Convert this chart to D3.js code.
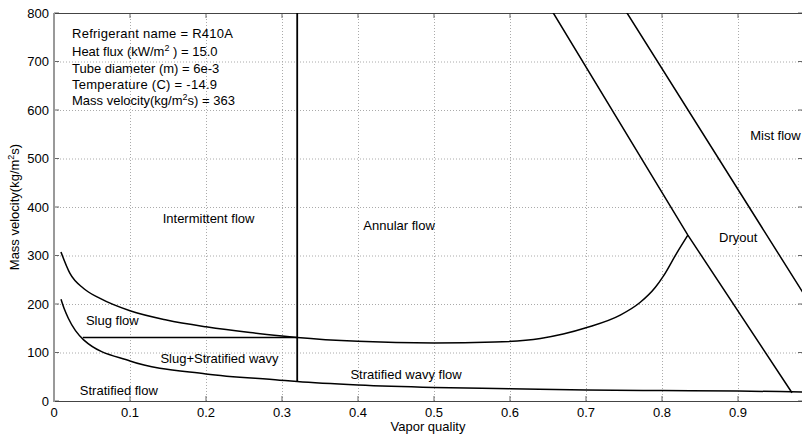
<!DOCTYPE html>
<html>
<head>
<meta charset="utf-8">
<script src="https://cdn.jsdelivr.net/npm/d3@7"></script>
<style>
  body { margin: 0; background: #fff; }
  svg text { font-family: "Liberation Sans", Arial, sans-serif; font-size: 13px; fill: #000; }
  .grid line { stroke: #aaa; stroke-dasharray: 1,2; }
  .grid path { display: none; }
</style>
</head>
<body>
<svg id="main" width="802" height="434"></svg>
<script>
// flow pattern map boundaries
const wavyX = [0.0092, 0.021, 0.039, 0.06, 0.1, 0.148, 0.2, 0.258, 0.3, 0.32, 0.4, 0.5, 0.58, 0.64, 0.67, 0.7, 0.745, 0.771, 0.791, 0.802, 0.819, 0.834];
const wavyG = [307, 263, 232, 212, 186, 167, 153, 141, 134, 131, 123, 119.5, 121.5, 129, 138, 151, 177, 203, 234, 258, 304, 342];

const stratX = [0.0092, 0.014, 0.019, 0.039, 0.1, 0.2, 0.297, 0.32, 0.4, 0.5, 0.6, 0.7, 0.8, 0.9, 0.97, 0.99];
const stratG = [210, 188, 170, 126, 82.5, 55.7, 43, 40, 33, 28, 25.5, 22.7, 21.5, 20.6, 19, 18.5];

const slugX = [0.038, 0.32];
const slugG = [131, 131];

const iaX = [0.32, 0.32];
const iaG = [40, 800];

const dryoutX = [0.652, 0.657, 0.834, 0.971];
const dryoutG = [812, 800, 342, 17];

const mistX = [0.749, 0.754, 0.99];
const mistG = [812, 800, 212];

const xTicks = [0, 0.1, 0.2, 0.3, 0.4, 0.5, 0.6, 0.7, 0.8, 0.9];
const yTicks = [0, 100, 200, 300, 400, 500, 600, 700, 800];

const infoLines = [
  ['Refrigerant name = R410A'],
  ['Heat flux (kW/m', '2', ' ) = 15.0'],
  ['Tube diameter (m) = 6e-3'],
  ['Temperature (C) = -14.9'],
  ['Mass velocity(kg/m', '2', 's) = 363']
];

const regions = [
  { label: 'Intermittent flow', x: 0.143, g: 366 },
  { label: 'Annular flow', x: 0.407, g: 352 },
  { label: 'Mist flow', x: 0.916, g: 538 },
  { label: 'Dryout', x: 0.875, g: 327 },
  { label: 'Slug flow', x: 0.042, g: 157 },
  { label: 'Slug+Stratified wavy', x: 0.14, g: 79 },
  { label: 'Stratified wavy flow', x: 0.39, g: 45 },
  { label: 'Stratified flow', x: 0.034, g: 12 }
];

const svg = d3.select('svg#main');
const mLeft = 54, mTop = 13, mRight = 803, mBottom = 401;

const x = d3.scaleLinear().domain([0, 0.9855]).range([mLeft, mRight]);
const y = d3.scaleLinear().domain([0, 800]).range([mBottom, mTop]);

// grid
svg.append('g')
  .attr('class', 'grid')
  .attr('transform', `translate(0, ${mBottom})`)
  .call(d3.axisBottom(x).tickValues(xTicks.slice(1)).tickSize(-(mBottom - mTop)).tickFormat(''));

svg.append('g')
  .attr('class', 'grid')
  .attr('transform', `translate(${mLeft}, 0)`)
  .call(d3.axisLeft(y).tickValues(yTicks.slice(1, -1)).tickSize(-(mRight - mLeft)).tickFormat(''));

// ticks (inward)
const tk = svg.append('g').attr('stroke', '#666').attr('stroke-width', 1);
xTicks.forEach(v => {
  tk.append('line').attr('x1', x(v)).attr('x2', x(v)).attr('y1', mBottom).attr('y2', mBottom - 5);
  tk.append('line').attr('x1', x(v)).attr('x2', x(v)).attr('y1', mTop).attr('y2', mTop + 5);
});
yTicks.forEach(v => {
  tk.append('line').attr('x1', mLeft).attr('x2', mLeft + 5).attr('y1', y(v)).attr('y2', y(v));
  tk.append('line').attr('x1', mRight - 5).attr('x2', mRight).attr('y1', y(v)).attr('y2', y(v));
});

// frame
svg.append('line').attr('x1', mLeft).attr('x2', mRight).attr('y1', mTop + 0.5).attr('y2', mTop + 0.5)
  .attr('stroke', '#444');
svg.append('line').attr('x1', mLeft).attr('x2', mRight).attr('y1', mBottom + 0.5).attr('y2', mBottom + 0.5)
  .attr('stroke', '#444');
svg.append('line').attr('x1', mLeft).attr('x2', mLeft).attr('y1', mTop).attr('y2', mBottom + 1)
  .attr('stroke', '#999').attr('stroke-width', 2);

// tick labels
svg.append('g').selectAll('text')
  .data(xTicks).enter().append('text')
  .attr('x', d => x(d))
  .attr('y', 417)
  .attr('text-anchor', 'middle')
  .text(d => d === 0 ? '0' : d3.format('.1f')(d));

svg.append('g').selectAll('text')
  .data(yTicks).enter().append('text')
  .attr('x', 49)
  .attr('y', d => y(d) + 4.5)
  .attr('text-anchor', 'end')
  .text(d => d);

// boundaries
svg.append('clipPath').attr('id', 'clip')
  .append('rect').attr('x', mLeft).attr('y', mTop).attr('width', mRight - mLeft).attr('height', mBottom - mTop);

const plot = svg.append('g').attr('clip-path', 'url(#clip)');

const curve = (xs, gs, c) => d3.line()
  .x((d, i) => x(xs[i]))
  .y((d, i) => y(gs[i]))
  .curve(c)(xs);

plot.append('path').attr('d', curve(wavyX, wavyG, d3.curveMonotoneX))
  .attr('fill', 'none').attr('stroke', '#000').attr('stroke-width', 1.5);
plot.append('path').attr('d', curve(stratX, stratG, d3.curveMonotoneX))
  .attr('fill', 'none').attr('stroke', '#000').attr('stroke-width', 1.5);
plot.append('path').attr('d', curve(slugX, slugG, d3.curveLinear))
  .attr('fill', 'none').attr('stroke', '#000').attr('stroke-width', 1.5);
plot.append('path').attr('d', curve(iaX, iaG, d3.curveLinear))
  .attr('fill', 'none').attr('stroke', '#000').attr('stroke-width', 1.8);
plot.append('path').attr('d', curve(dryoutX, dryoutG, d3.curveLinear))
  .attr('fill', 'none').attr('stroke', '#000').attr('stroke-width', 1.5);
plot.append('path').attr('d', curve(mistX, mistG, d3.curveLinear))
  .attr('fill', 'none').attr('stroke', '#000').attr('stroke-width', 1.5);

// info text; two lines are set wider in the original, stretch them by letter spacing
const baselines = [38, 55.5, 73, 88.5, 104.5];
const infoWidths = [161, 0, 0, 145, 0];
infoLines.forEach((parts, i) => {
  const t = svg.append('text').attr('x', 72).attr('y', baselines[i]);
  if (parts.length === 1) {
    t.text(parts[0]);
    if (infoWidths[i]) {
      const w = t.node().getComputedTextLength();
      const ls = (infoWidths[i] - w) / (parts[0].length - 1);
      if (ls > 0) t.style('letter-spacing', ls + 'px');
    }
  } else {
    t.append('tspan').text(parts[0]);
    t.append('tspan').attr('dy', -5).style('font-size', '9px').text(parts[1]);
    t.append('tspan').attr('dy', 5).text(parts[2]);
  }
});

// region labels
svg.append('g').selectAll('text')
  .data(regions).enter().append('text')
  .attr('x', d => x(d.x))
  .attr('y', d => y(d.g))
  .text(d => d.label);

// axis labels
svg.append('text')
  .attr('x', 428)
  .attr('y', 431)
  .attr('text-anchor', 'middle')
  .text('Vapor quality');

const yl = svg.append('text')
  .attr('transform', `translate(19, ${(mTop + mBottom) / 2}) rotate(-90)`)
  .attr('text-anchor', 'middle');
yl.append('tspan').text('Mass velocity(kg/m');
yl.append('tspan').attr('dy', -5).style('font-size', '9px').text('2');
yl.append('tspan').attr('dy', 5).text('s)');
</script>
</body>
</html>
